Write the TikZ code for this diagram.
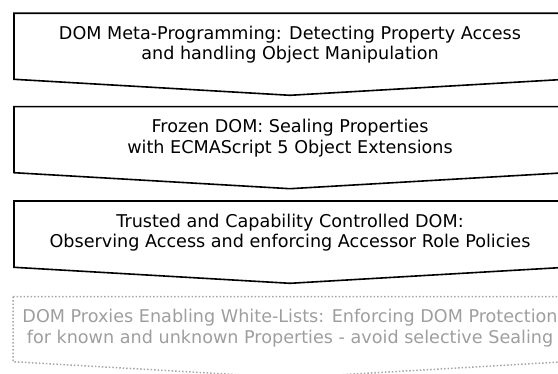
\documentclass[tikz,border=0pt]{standalone}
\usepackage{fontspec}
\setmainfont{DejaVu Sans}
\begin{document}
\begin{tikzpicture}[x=1pt,y=-1pt,
  lbl/.style={align=center,font=\fontsize{17.6}{20.5}\selectfont,inner sep=0pt},
  stepshape/.style={draw=black,line width=1.6pt,line join=miter},
  futureshape/.style={draw=black!35,line width=1.5pt,dotted},
  futurelbl/.style={lbl,text=black!38}]
\useasboundingbox (0,0) rectangle (558,374);
\clip (0,0) rectangle (558,374);
\draw[stepshape] (14,13.3) -- (566,13.3) -- (566,79.3) -- (290,95.3) -- (14,79.3) -- cycle;
\node[lbl] (s1) at (290,44.5) {DOM Meta-Programming: Detecting Property Access\\and handling Object Manipulation};
\draw[stepshape] (14,106.7) -- (566,106.7) -- (566,172.7) -- (290,188.7) -- (14,172.7) -- cycle;
\node[lbl] (s2) at (290,138) {Frozen DOM: Sealing Properties\\with ECMAScript 5 Object Extensions};
\draw[stepshape] (14,201) -- (566,201) -- (566,267.3) -- (290,283.3) -- (14,267.3) -- cycle;
\node[lbl] (s3) at (290,232.5) {Trusted and Capability Controlled DOM:\\Observing Access and enforcing Accessor Role Policies};
\draw[futureshape] (13,296.7) -- (566,296.7) -- (566,361.7) -- (290,377.7) -- (13,361.7) -- cycle;
\node[futurelbl] (s4) at (290,328) {DOM Proxies Enabling White-Lists: Enforcing DOM Protection\\for known and unknown Properties - avoid selective Sealing};
\end{tikzpicture}
\end{document}
